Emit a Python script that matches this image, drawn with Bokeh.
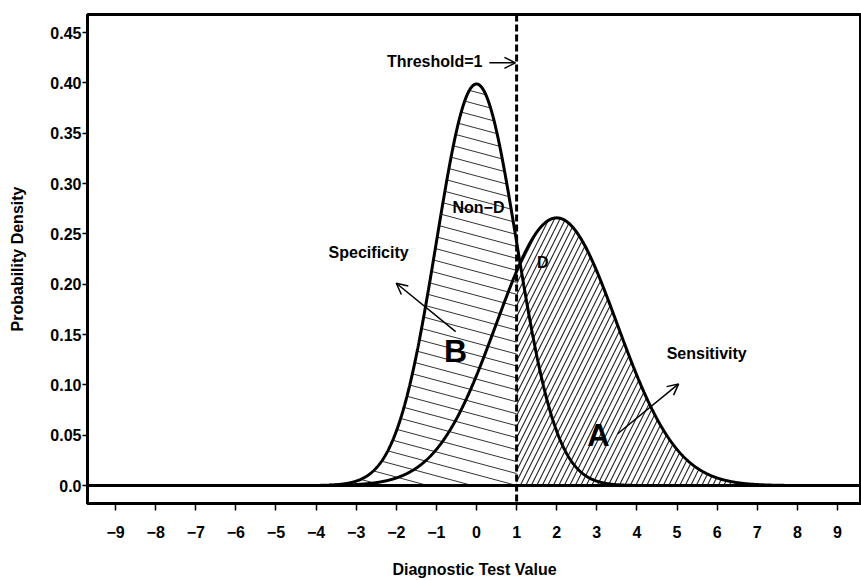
import numpy as np
from bokeh.plotting import figure
from bokeh.models import Span, Label, Arrow, OpenHead, FixedTicker, CustomJSTickFormatter
from bokeh.embed import file_html
from bokeh.resources import INLINE

# ---------------- data ----------------
x_ticks = [-9, -8, -7, -6, -5, -4, -3, -2, -1, 0, 1, 2, 3, 4, 5, 6, 7, 8, 9]
x_tick_labels = ["\u22129", "\u22128", "\u22127", "\u22126", "\u22125", "\u22124", "\u22123",
                 "\u22122", "\u22121", "0", "1", "2", "3", "4", "5", "6", "7", "8", "9"]
y_ticks = [0.0, 0.05, 0.10, 0.15, 0.20, 0.25, 0.30, 0.35, 0.40, 0.45]
y_tick_labels = ["0.0", "0.05", "0.10", "0.15", "0.20", "0.25", "0.30", "0.35", "0.40", "0.45"]

non_d_mean, non_d_sd = 0.0, 1.0   # non-diseased distribution
d_mean, d_sd = 2.0, 1.5           # diseased distribution
threshold = 1.0

# ---------------- layout ----------------
W, H = 861, 580
ML, MR, MT, MB = 87, 0, 14, 75
X_START, X_END = -9.7, 9.6
Y_START, Y_END = -0.0178, 0.468
FONT = "Liberation Sans"


def pdf(x, m, s):
    return np.exp(-0.5 * ((x - m) / s) ** 2) / (s * np.sqrt(2 * np.pi))


p = figure(width=W, height=H, x_range=(X_START, X_END), y_range=(Y_START, Y_END),
           output_backend="svg", toolbar_location=None,
           min_border_left=ML, min_border_right=MR, min_border_top=MT, min_border_bottom=MB)
p.xgrid.visible = False
p.ygrid.visible = False
p.outline_line_color = "black"
p.outline_line_width = 3
p.outline_line_alpha = 1

xs = np.linspace(X_START, X_END, 3000)
nd = pdf(xs, non_d_mean, non_d_sd)
dd = pdf(xs, d_mean, d_sd)

# ---- region A: under D, right of threshold, "/" hatch
ma = xs >= threshold
p.varea(x=xs[ma], y1=np.zeros(ma.sum()), y2=dd[ma], fill_alpha=0,
        hatch_pattern="/", hatch_scale=11, hatch_weight=1.1, hatch_color="#222222")

# ---- region B: under Non-D, left of threshold, shallow slanted hatch
frame_w = W - ML - MR
frame_h = H - MT - MB
sx = frame_w / (X_END - X_START)
sy = frame_h / (Y_END - Y_START)
slope = -0.27 * sx / sy
gap = 12.0 / sy
anchor = -0.1
xb = np.linspace(X_START, threshold, 6000)
fb = pdf(xb, non_d_mean, non_d_sd)
hx, hy = [], []
for k in range(-40, 60):
    yl = slope * (xb - anchor) + k * gap
    mask = (yl >= 0) & (yl <= fb)
    idx = np.flatnonzero(mask)
    if idx.size < 2:
        continue
    runs = np.split(idx, np.flatnonzero(np.diff(idx) > 1) + 1)
    for r in runs:
        if r.size < 2:
            continue
        hx.append([xb[r[0]], xb[r[-1]]])
        hy.append([yl[r[0]], yl[r[-1]]])
p.multi_line(hx, hy, line_color="#333333", line_width=1)

# ---- curves
p.line(xs, nd, line_color="black", line_width=3)
p.line(xs, dd, line_color="black", line_width=3)

# ---- baseline and threshold
p.add_layout(Span(location=0, dimension="width", line_color="black", line_width=3))
p.add_layout(Span(location=threshold, dimension="height", line_color="black",
                  line_width=3, line_dash="7 3"))

# ---- annotations
def lab(x, y, t, size="16px", align="center"):
    p.add_layout(Label(x=x, y=y, text=t, text_font=FONT, text_font_style="bold",
                       text_font_size=size, text_align=align, text_baseline="middle",
                       text_color="black"))

lab(0.15, 0.421, "Threshold=1", align="right")
lab(0.05, 0.276, "Non\u2212D")
lab(1.65, 0.222, "D")
lab(-2.69, 0.232, "Specificity")
lab(-0.52, 0.134, "B", size="32px")
lab(5.74, 0.131, "Sensitivity")
lab(3.04, 0.050, "A", size="31px")

for (x0, y0, x1, y1) in [(0.32, 0.42, 0.97, 0.42),
                         (-0.52, 0.153, -2.0, 0.201),
                         (3.52, 0.0515, 5.04, 0.101)]:
    p.add_layout(Arrow(end=OpenHead(size=11, line_width=1.5, line_color="black"),
                       x_start=x0, y_start=y0, x_end=x1, y_end=y1,
                       line_width=1.5, line_color="black"))

# ---- axes
fmt_code = ("const i = tv.findIndex(t => Math.abs(t - tick) < 1e-9);"
            "return i >= 0 ? tl[i] : '';")
xa = p.xaxis[0]
xa.ticker = FixedTicker(ticks=x_ticks)
xa.formatter = CustomJSTickFormatter(args=dict(tv=x_ticks, tl=x_tick_labels), code=fmt_code)
xa.major_tick_in = 0
xa.major_tick_out = 7
xa.minor_tick_in = 0
xa.minor_tick_out = 0
xa.major_tick_line_width = 1.5
xa.axis_line_width = 3
xa.major_label_standoff = 15
xa.major_label_text_font = FONT
xa.major_label_text_font_style = "bold"
xa.major_label_text_font_size = "16px"
xa.major_label_text_color = "black"
xa.axis_label = "Diagnostic Test Value"
xa.axis_label_text_font = FONT
xa.axis_label_text_font_style = "bold"
xa.axis_label_text_font_size = "16px"
xa.axis_label_text_color = "black"
xa.axis_label_standoff = 20

ya = p.yaxis[0]
ya.ticker = FixedTicker(ticks=y_ticks)
ya.formatter = CustomJSTickFormatter(args=dict(tv=y_ticks, tl=y_tick_labels), code=fmt_code)
ya.major_tick_in = 0
ya.major_tick_out = 5
ya.minor_tick_in = 0
ya.minor_tick_out = 0
ya.major_tick_line_width = 1.5
ya.axis_line_width = 3
ya.major_label_standoff = 1
ya.major_label_text_font = FONT
ya.major_label_text_font_style = "bold"
ya.major_label_text_font_size = "16px"
ya.major_label_text_color = "black"
ya.axis_label = "Probability Density"
ya.axis_label_text_font = FONT
ya.axis_label_text_font_style = "bold"
ya.axis_label_text_font_size = "16px"
ya.axis_label_text_color = "black"
ya.axis_label_standoff = 21

open("out.html", "w").write(file_html(p, INLINE))
